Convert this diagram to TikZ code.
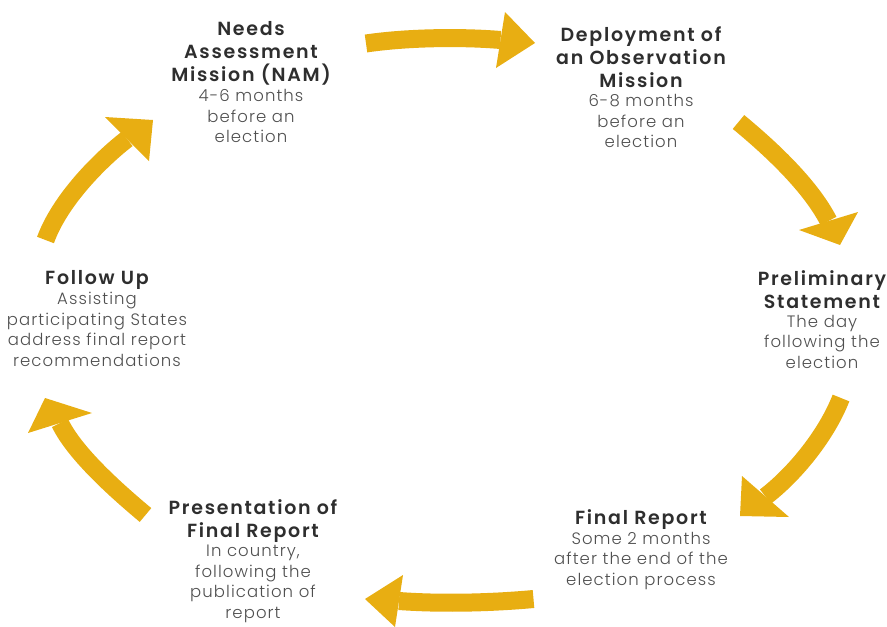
\documentclass[tikz,border=0pt]{standalone}
\usepackage{fontspec}
\setmainfont{Poppins}
\IfFontExistsTF{Poppins SemiBold}
  {\newfontfamily\headfont[LetterSpace=9]{Poppins SemiBold}}
  {\newfontfamily\headfont[LetterSpace=9]{Poppins Bold}}
\IfFontExistsTF{Poppins Light}
  {\newfontfamily\subfont[LetterSpace=6.5]{Poppins Light}}
  {\newfontfamily\subfont[LetterSpace=6.5]{Poppins}}
\definecolor{arrowgold}{HTML}{E8AE12}
\definecolor{headgray}{HTML}{2E2E2E}
\definecolor{subgray}{HTML}{4F4F4F}
\tikzset{
  headtxt/.style={anchor=base, align=center, inner sep=0pt, text=headgray,
    font=\headfont\fontsize{19}{23}\selectfont},
  subtxt/.style={anchor=base, align=center, inner sep=0pt, text=subgray,
    font=\subfont\fontsize{16.5}{20.5}\selectfont},
  shaft/.style={draw=arrowgold, line width=18pt, line cap=butt},
  arrowhead/.style={fill=arrowgold, draw=none}
}
\begin{document}
\begin{tikzpicture}[x=1pt,y=-1pt]
\useasboundingbox (0,0) rectangle (887,627);

% ---- texts (anchor = baseline of the last line) ----
\node[headtxt] (h1) at (251,81) {Needs\\Assessment\\Mission (NAM)};
\node[subtxt]  (s1) at (251,142.5) {4-6 months\\before an\\election};

\node[headtxt] (h2) at (641,87) {Deployment of\\an Observation\\Mission};
\node[subtxt]  (s2) at (641,147.5) {6-8 months\\before an\\election};

\node[headtxt] (h3) at (822,308) {Preliminary\\Statement};
\node[subtxt]  (s3) at (822,368) {The day\\following the\\election};

\node[headtxt] (h4) at (641,524.5) {Final Report};
\node[subtxt]  (s4) at (641,585) {Some 2 months\\after the end of the\\election process};

\node[headtxt] (h5) at (253,537) {Presentation of\\Final Report};
\node[subtxt]  (s5) at (253,618) {In country,\\following the\\publication of\\report};

\node[headtxt] (h6) at (97,284) {Follow Up};
\node[subtxt]  (s6) at (97,366) {Assisting\\participating States\\address final report\\recommendations};

% ---- arrow 1 (top) ----
\coordinate (a1t) at (366,43.5);
\coordinate (a1b) at (500.5,40);
\coordinate (a1p) at (535,43);
\coordinate (a1l) at (505,12);
\coordinate (a1r) at (496,68);
\draw[shaft] (a1t) .. controls (410,37) and (465,37) .. (a1b);
\fill[arrowhead] (a1l) -- (a1p) -- (a1r) -- cycle;

% ---- arrow 2 (top right) ----
\coordinate (a2t) at (738.5,122);
\coordinate (a2b) at (828.5,221);
\coordinate (a2p) at (840,245);
\coordinate (a2l) at (858,212);
\coordinate (a2r) at (799,230);
\draw[shaft] (a2t) .. controls (770,148) and (810,185) .. (a2b);
\fill[arrowhead] (a2l) -- (a2p) -- (a2r) -- cycle;

% ---- arrow 3 (right bottom) ----
\coordinate (a3t) at (841,398);
\coordinate (a3b) at (765.5,496.5);
\coordinate (a3p) at (740,516);
\coordinate (a3l) at (789,517);
\coordinate (a3r) at (742,476);
\draw[shaft] (a3t) .. controls (827,434) and (796,473) .. (a3b);
\fill[arrowhead] (a3l) -- (a3p) -- (a3r) -- cycle;

% ---- arrow 4 (bottom) ----
\coordinate (a4t) at (533.5,599);
\coordinate (a4b) at (399,601);
\coordinate (a4p) at (365,599);
\coordinate (a4l) at (395,627);
\coordinate (a4r) at (403,575);
\draw[shaft] (a4t) .. controls (490,603) and (440,604) .. (a4b);
\fill[arrowhead] (a4l) -- (a4p) -- (a4r) -- cycle;

% ---- arrow 5 (left bottom) ----
\coordinate (a5t) at (145.5,515);
\coordinate (a5b) at (60,423);
\coordinate (a5p) at (45,398);
\coordinate (a5l) at (28,433);
\coordinate (a5r) at (92,413);
\draw[shaft] (a5t) .. controls (112,487) and (74,452) .. (a5b);
\fill[arrowhead] (a5l) -- (a5p) -- (a5r) -- cycle;

% ---- arrow 6 (left top) ----
\coordinate (a6t) at (45.5,240);
\coordinate (a6b) at (127,139);
\coordinate (a6p) at (153,120);
\coordinate (a6l) at (105,117);
\coordinate (a6r) at (149,161);
\draw[shaft] (a6t) .. controls (60,200) and (100,160) .. (a6b);
\fill[arrowhead] (a6l) -- (a6p) -- (a6r) -- cycle;
\end{tikzpicture}
\end{document}
